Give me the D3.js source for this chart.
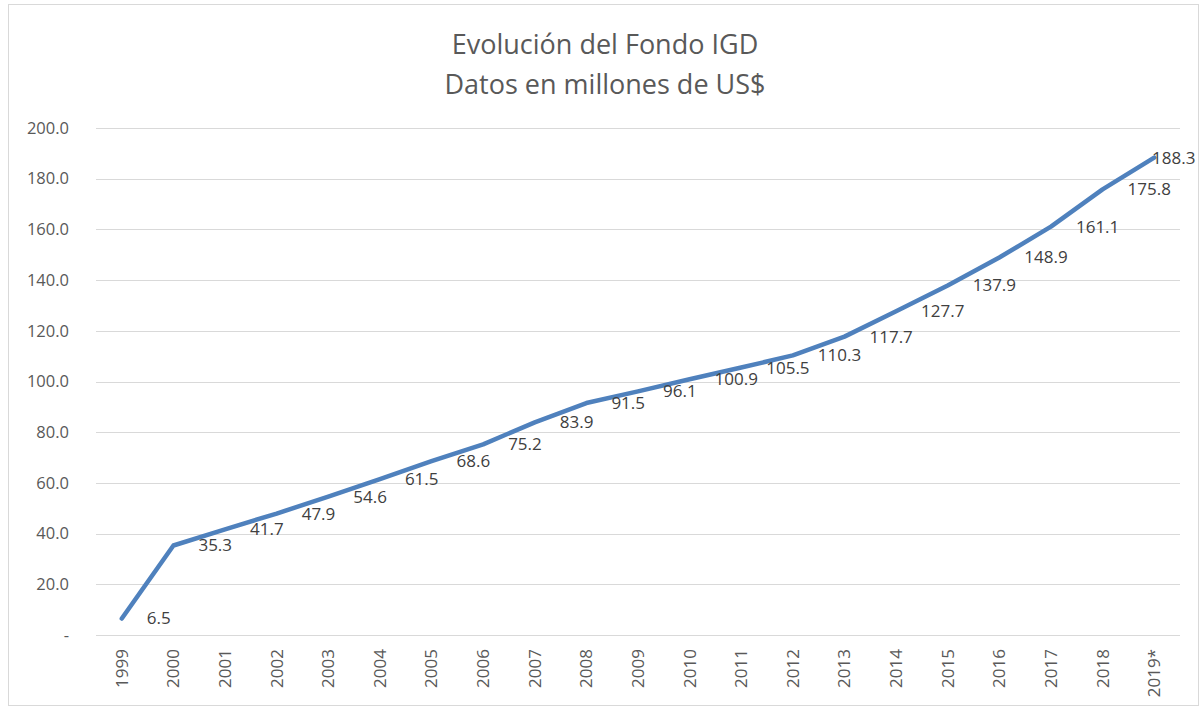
<!DOCTYPE html>
<html>
<head>
<meta charset="utf-8">
<script src="https://cdn.jsdelivr.net/npm/d3@7"></script>
<style>
  body { margin: 0; background: #fff; }
  svg { font-family: "Open Sans", "Noto Sans", sans-serif; }
</style>
</head>
<body>
<div id="chart"></div>
<script>
// datos del fondo
var years = ["1999", "2000", "2001", "2002", "2003", "2004", "2005", "2006", "2007", "2008", "2009",
    "2010", "2011", "2012", "2013", "2014", "2015", "2016", "2017", "2018", "2019*"];
var fondo = [6.5, 35.3, 41.7, 47.9, 54.6, 61.5, 68.6, 75.2, 83.9, 91.5, 96.1,
    100.9, 105.5, 110.3, 117.7, 127.7, 137.9, 148.9, 161.1, 175.8, 188.3];
var yTicks = [0, 20, 40, 60, 80, 100, 120, 140, 160, 180, 200];
var titleLines = ["Evolución del Fondo IGD", "Datos en millones de US$"];

var width = 1199, height = 709;
var margin = { top: 128, right: 19, bottom: 74, left: 96 };

var svg = d3.select("#chart").append("svg")
    .attr("width", width)
    .attr("height", height);

// marco del grafico
svg.append("rect")
    .attr("x", 8.5).attr("y", 4.5)
    .attr("width", width - 9).attr("height", height - 8)
    .attr("fill", "none")
    .attr("stroke", "#d9d9d9");

let x = d3.scaleBand()
    .domain(years)
    .range([margin.left, width - margin.right]);
let y = d3.scaleLinear()
    .domain([0, 200])
    .range([height - margin.bottom, margin.top]);

// titulo
svg.append("text")
    .attr("text-anchor", "middle")
    .attr("fill", "#595959")
    .attr("font-size", "27px")
    .selectAll("tspan")
    .data(titleLines)
    .enter()
    .append("tspan")
    .attr("x", 605)
    .attr("y", (d, i) => 54 + i * 40)
    .text(d => d);

// grilla
svg.append("g")
    .selectAll("line")
    .data(yTicks)
    .enter()
    .append("line")
    .attr("x1", margin.left)
    .attr("x2", width - margin.right)
    .attr("y1", d => Math.round(y(d)) + 0.5)
    .attr("y2", d => Math.round(y(d)) + 0.5)
    .attr("stroke", "#d9d9d9")
    .attr("stroke-width", 1);

// eje y
let yAxis = svg.append("g")
    .attr("transform", "translate(" + (margin.left - 24) + ",0)")
    .call(d3.axisLeft(y).tickValues(yTicks).tickSize(0)
        .tickFormat(d => d === 0 ? "-" : d3.format(".1f")(d)));
yAxis.select(".domain").remove();
yAxis.selectAll("text")
    .attr("fill", "#595959")
    .attr("font-size", "16.5px")
    .attr("font-family", "Open Sans, Noto Sans, sans-serif");

// eje x
let xAxis = svg.append("g")
    .attr("transform", "translate(0," + (height - margin.bottom) + ")")
    .call(d3.axisBottom(x).tickSize(0));
xAxis.select(".domain").remove();
xAxis.selectAll("text")
    .attr("fill", "#595959")
    .attr("font-size", "17px")
    .attr("font-family", "Open Sans, Noto Sans, sans-serif")
    .attr("text-anchor", "end")
    .attr("transform", "rotate(-90)")
    .attr("x", -14)
    .attr("y", 0)
    .attr("dy", "0.35em");

// linea
let line = d3.line()
    .x((d, i) => x(years[i]) + x.bandwidth() / 2)
    .y(d => y(d));

svg.append("path")
    .datum(fondo)
    .attr("fill", "none")
    .attr("stroke", "#4f81bd")
    .attr("stroke-width", 4.5)
    .attr("stroke-linejoin", "round")
    .attr("stroke-linecap", "round")
    .attr("d", line);

// etiquetas de datos
svg.append("g")
    .selectAll("text")
    .data(fondo)
    .enter()
    .append("text")
    .attr("fill", "#404040")
    .attr("font-size", "17px")
    .attr("x", (d, i) => Math.min(x(years[i]) + x.bandwidth() / 2 + 25, width - 47))
    .attr("y", d => y(d))
    .attr("dy", "0.35em")
    .text(d => d3.format(".1f")(d));
</script>
</body>
</html>
